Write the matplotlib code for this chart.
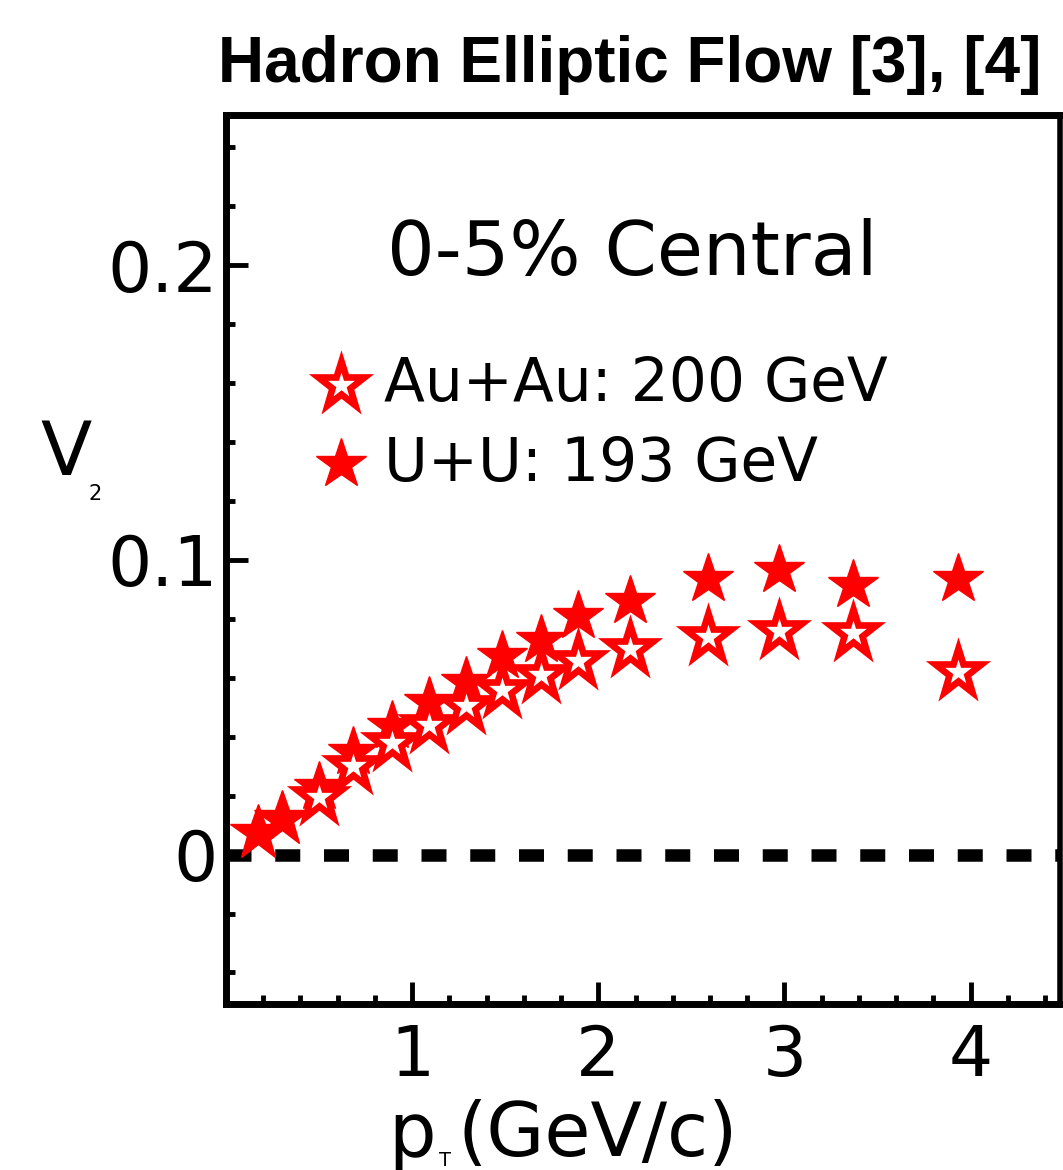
import matplotlib.pyplot as plt
from matplotlib.markers import MarkerStyle
from matplotlib.ticker import MultipleLocator, FixedLocator

# U+U 193 GeV (filled stars)
pt_uu = [0.17, 0.30, 0.50, 0.68, 0.89, 1.09, 1.29, 1.48, 1.69, 1.89, 2.17, 2.59, 2.97, 3.37, 3.93]
v2_uu = [0.0075, 0.012, 0.023, 0.0347, 0.0435, 0.0517, 0.0585, 0.0673, 0.073, 0.081, 0.086, 0.0935, 0.0966, 0.0915, 0.0935]

# Au+Au 200 GeV (open stars)
pt_au = [0.50, 0.68, 0.89, 1.09, 1.29, 1.48, 1.69, 1.89, 2.17, 2.59, 2.97, 3.37, 3.93]
v2_au = [0.0197, 0.030, 0.038, 0.044, 0.0505, 0.056, 0.061, 0.0657, 0.0697, 0.0738, 0.0759, 0.0752, 0.062]

xticks = [1, 2, 3, 4]
yticks = [0, 0.1, 0.2]
ytick_labels = ["0", "0.1", "0.2"]

W, H = 1063, 1170
fig = plt.figure(figsize=(W / 100, H / 100), dpi=100)
ax = fig.add_axes([226 / W, 1 - 1004 / H, (1060 - 226) / W, (1004 - 115) / H])

ax.set_xlim(0, 4.48)
ax.set_ylim(-0.0507, 0.251)

# zero line
ax.axhline(0, color="black", lw=9, linestyle=(0, (2, 1.9)), zorder=1)

star = MarkerStyle("*", joinstyle="miter")
open_style = dict(marker=star, linestyle="none", markerfacecolor="white", markeredgecolor="red",
                  markersize=35, markeredgewidth=4.8)
full_style = dict(marker=star, linestyle="none", color="red", markeredgewidth=1)

# data: the two lowest pT points are drawn a bit larger
ax.plot(pt_uu[:2], v2_uu[:2], markersize=42, zorder=2, **full_style)
ax.plot(pt_uu[2:], v2_uu[2:], markersize=38, zorder=2, **full_style)
ax.plot(pt_au, v2_au, zorder=3, **open_style)

# legend drawn by hand
ax.plot([0.62], [0.1595], **open_style)
ax.plot([0.62], [0.1325], markersize=38, **full_style)
ax.text(0.85, 0.1595, "Au+Au: 200 GeV", fontsize=43, va="center", ha="left")
ax.text(0.85, 0.1325, "U+U: 193 GeV", fontsize=43, va="center", ha="left")

ax.text(2.18, 0.2035, "0-5% Central", fontsize=54, va="center", ha="center")

# axes styling
for side in ["left", "bottom", "top"]:
    ax.spines[side].set_linewidth(5)
ax.spines["right"].set_linewidth(4)

ax.xaxis.set_major_locator(FixedLocator(xticks))
ax.xaxis.set_minor_locator(MultipleLocator(0.2))
ax.yaxis.set_major_locator(FixedLocator(yticks))
ax.yaxis.set_minor_locator(MultipleLocator(0.02))
ax.set_yticklabels(ytick_labels)

ax.tick_params(which="both", direction="in", top=False, right=False, width=3.5)
ax.tick_params(which="major", length=16, labelsize=50)
ax.tick_params(axis="x", which="major", pad=14)
ax.tick_params(axis="y", which="major", pad=6)
ax.tick_params(which="minor", length=6.5)

# axis labels
fig.text(40 / W, 1 - 455 / H, "V", fontsize=54, va="center", ha="left")
fig.text(88 / W, 1 - 494 / H, "2", fontsize=15, va="center", ha="left")
fig.text(388 / W, 1 - 1135 / H, "p", fontsize=54, va="center", ha="left")
fig.text(439 / W, 1 - 1160 / H, "T", fontsize=14, va="center", ha="left")
fig.text(457 / W, 1 - 1135 / H, "(GeV/c)", fontsize=54, va="center", ha="left")

fig.text(630 / W, 1 - 65 / H, "Hadron Elliptic Flow [3], [4]", fontsize=46,
         fontweight="bold", family="Liberation Sans", ha="center", va="center")

fig.savefig("out.png", dpi=100)
